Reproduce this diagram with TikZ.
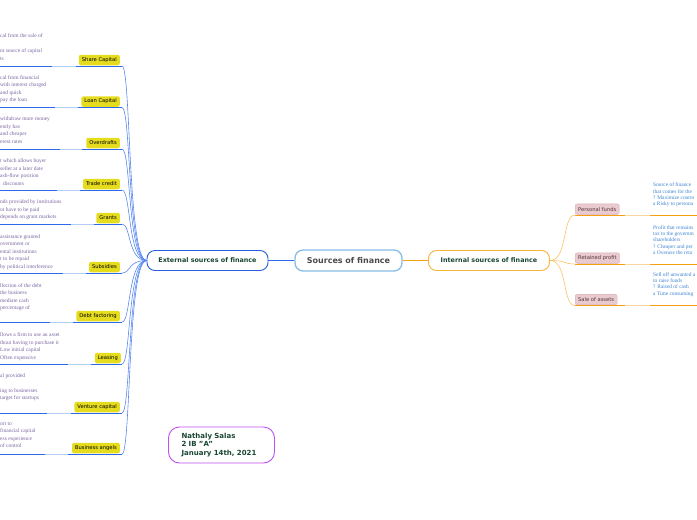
\documentclass[tikz,border=0pt]{standalone}
\usepackage{fontspec}
\setsansfont{DejaVu Sans}
\newfontfamily\notefont{Liberation Serif}
\usetikzlibrary{positioning}
\definecolor{ublue}{RGB}{45,105,235}
\definecolor{ubluelight}{RGB}{180,205,245}
\definecolor{uorange}{RGB}{245,160,20}
\definecolor{uorangelight}{RGB}{250,215,160}
\definecolor{rootblue}{RGB}{135,188,230}
\definecolor{extblue}{RGB}{40,95,225}
\definecolor{intorange}{RGB}{248,180,60}
\definecolor{authorpurple}{RGB}{190,80,240}
\definecolor{deepgreen}{RGB}{25,70,50}
\definecolor{rootgray}{RGB}{75,75,75}
\definecolor{labyellow}{RGB}{230,220,30}
\definecolor{labpink}{RGB}{232,202,207}
\definecolor{labpinkdark}{RGB}{215,172,180}
\definecolor{labtext}{RGB}{85,55,55}
\definecolor{notepurple}{RGB}{120,100,160}
\definecolor{noteblue}{RGB}{60,130,210}
\begin{document}
\begin{tikzpicture}[x=1pt,y=-1pt,
  topic/.style={draw,rounded corners=8pt,fill=white,line width=0.9pt,minimum width=121pt,minimum height=20pt,font=\sffamily\bfseries\fontsize{6.4}{7}\selectfont,text=deepgreen},
  root/.style={topic,draw=rootblue,line width=1.3pt,minimum width=107pt,minimum height=21pt,font=\sffamily\bfseries\fontsize{8}{9}\selectfont,text=rootgray},
  stopic/.style={fill=labyellow,rounded corners=2pt,minimum height=10.5pt,inner xsep=3pt,inner ysep=0pt,font=\sffamily\fontsize{5.2}{6}\selectfont},
  itopic/.style={stopic,fill=labpink,draw=labpinkdark,line width=0.3pt,text=labtext},
  note/.style={inner sep=0pt,align=left,anchor=north west,font=\notefont\fontsize{5.5}{7.5}\selectfont,text=notepurple},
  rnote/.style={note,font=\notefont\fontsize{5.4}{6.3}\selectfont,text=noteblue},
  author/.style={draw=authorpurple,line width=0.9pt,rounded corners=11pt,text width=80pt,inner xsep=13pt,minimum height=36pt,align=left,font=\sffamily\bfseries\fontsize{7}{8.5}\selectfont,text=deepgreen},
  uline/.style={ublue,line width=1pt},
  ulight/.style={ubluelight,line width=1pt},
  elink/.style={ublue!80,line width=0.6pt},
  oline/.style={uorange,line width=1pt},
  olight/.style={uorangelight,line width=1pt},
  ilink/.style={uorange!65,line width=0.6pt}]
  \useasboundingbox (0,0) rectangle (697,520);
  % main topics
  \node[root] (root) at (348.5,260.5) {Sources of finance};
  \node[topic,draw=extblue] (ext) at (207.5,260.5) {External sources of finance};
  \node[topic,draw=intorange] (int) at (489,260.5) {Internal sources of finance};
  \draw[uline] (ext) -- (root);
  \draw[oline] (root) -- (int);
  \node[author] (author) at (221.5,445) {Nathaly Salas\\2 IB "A"\\January 14th, 2021};

  % external sources
  \node[note] (nshare) at (0,33.5) {cal from the sale of\\[7.5pt]nt source of capital\\ts};
  \node[stopic,anchor=south east] (share) at (120,65.5) {Share Capital};
  \coordinate (share-b) at (52,66); \coordinate (share-c) at (76,66); \coordinate (share-d) at (122,66);
  \draw[uline] (nshare.west |- share-b) -- (share-b); \draw[ulight] (share-b) -- (share-c); \draw[uline] (share-c) -- (share-d);
  \draw[elink] (ext.west) .. controls +(-19,0) and +(9,0) .. (share-d);

  \node[note] (nloan) at (0,75.2) {cal from financial\\with interest charged\\and quick\\pay the loan};
  \node[stopic,anchor=south east] (loan) at (120,107) {Loan Capital};
  \coordinate (loan-b) at (55,107.5); \coordinate (loan-c) at (78,107.5); \coordinate (loan-d) at (122,107.5);
  \draw[uline] (nloan.west |- loan-b) -- (loan-b); \draw[ulight] (loan-b) -- (loan-c); \draw[uline] (loan-c) -- (loan-d);
  \draw[elink] (ext.west) .. controls +(-19,0) and +(9,0) .. (loan-d);

  \node[note] (nover) at (0,116.8) {withdraw more money\\ently has\\and cheaper\\erest rates};
  \node[stopic,anchor=south east] (over) at (120,148.5) {Overdrafts};
  \coordinate (over-b) at (60,149); \coordinate (over-c) at (82,149); \coordinate (over-d) at (122,149);
  \draw[uline] (nover.west |- over-b) -- (over-b); \draw[ulight] (over-b) -- (over-c); \draw[uline] (over-c) -- (over-d);
  \draw[elink] (ext.west) .. controls +(-19,0) and +(9,0) .. (over-d);

  \node[note] (ntrade) at (0,158.5) {t which allows buyer\\seller at a later date\\ash-flow position\\\hspace*{3pt}discounts};
  \node[stopic,anchor=south east] (trade) at (120,189.5) {Trade credit};
  \coordinate (trade-b) at (57,190); \coordinate (trade-c) at (80,190); \coordinate (trade-d) at (122,190);
  \draw[uline] (ntrade.west |- trade-b) -- (trade-b); \draw[ulight] (trade-b) -- (trade-c); \draw[uline] (trade-c) -- (trade-d);
  \draw[elink] (ext.west) .. controls +(-19,0) and +(9,0) .. (trade-d);

  \node[note] (ngrants) at (0,199.8) {nds provided by institutions\\ot have to be paid\\depends on grant markets};
  \node[stopic,anchor=south east] (grants) at (120,223.5) {Grants};
  \coordinate (grants-b) at (71,224); \coordinate (grants-c) at (94,224); \coordinate (grants-d) at (122,224);
  \draw[uline] (ngrants.west |- grants-b) -- (grants-b); \draw[ulight] (grants-b) -- (grants-c); \draw[uline] (grants-c) -- (grants-d);
  \draw[elink] (ext.west) .. controls +(-19,0) and +(9,0) .. (grants-d);

  \node[note] (nsubs) at (0,234.2) {assistance granted\\overnment or\\ental institutions\\t to be repaid\\by political interference};
  \node[stopic,anchor=south east] (subs) at (120,272.5) {Subsidies};
  \coordinate (subs-b) at (63,273); \coordinate (subs-c) at (86,273); \coordinate (subs-d) at (122,273);
  \draw[uline] (nsubs.west |- subs-b) -- (subs-b); \draw[ulight] (subs-b) -- (subs-c); \draw[uline] (subs-c) -- (subs-d);
  \draw[elink] (ext.west) .. controls +(-19,0) and +(9,0) .. (subs-d);

  \node[note] (ndebt) at (0,283.2) {llection of the debt\\the business\\mediate cash\\percentage of};
  \node[stopic,anchor=south east] (debt) at (120,321.5) {Debt factoring};
  \coordinate (debt-b) at (50,322); \coordinate (debt-c) at (73,322); \coordinate (debt-d) at (122,322);
  \draw[uline] (ndebt.west |- debt-b) -- (debt-b); \draw[ulight] (debt-b) -- (debt-c); \draw[uline] (debt-c) -- (debt-d);
  \draw[elink] (ext.west) .. controls +(-19,0) and +(9,0) .. (debt-d);

  \node[note] (nlease) at (0,332.5) {llows a firm to use an asset\\thout having to purchase it\\Low initial capital\\Often expensive};
  \node[stopic,anchor=south east] (lease) at (121,363.5) {Leasing};
  \coordinate (lease-b) at (68,364); \coordinate (lease-c) at (91,364); \coordinate (lease-d) at (122,364);
  \draw[uline] (nlease.west |- lease-b) -- (lease-b); \draw[ulight] (lease-b) -- (lease-c); \draw[uline] (lease-c) -- (lease-d);
  \draw[elink] (ext.west) .. controls +(-19,0) and +(9,0) .. (lease-d);

  \node[note] (nvent) at (0,373.2) {al provided\\[7.5pt]ing to businesses\\target for startups};
  \node[stopic,anchor=south east] (vent) at (120,412.5) {Venture capital};
  \coordinate (vent-b) at (47,413); \coordinate (vent-c) at (71,413); \coordinate (vent-d) at (122,413);
  \draw[uline] (nvent.west |- vent-b) -- (vent-b); \draw[ulight] (vent-b) -- (vent-c); \draw[uline] (vent-c) -- (vent-d);
  \draw[elink] (ext.west) .. controls +(-19,0) and +(9,0) .. (vent-d);

  \node[note] (nangel) at (0,421.8) {ort to\\financial capital\\ess experience\\of control};
  \node[stopic,anchor=south east] (angel) at (120,453.5) {Business angels};
  \coordinate (angel-b) at (45,454); \coordinate (angel-c) at (68,454); \coordinate (angel-d) at (122,454);
  \draw[uline] (nangel.west |- angel-b) -- (angel-b); \draw[ulight] (angel-b) -- (angel-c); \draw[uline] (angel-c) -- (angel-d);
  \draw[elink] (ext.west) .. controls +(-19,0) and +(9,0) .. (angel-d);

  % internal sources
  \node[itopic,anchor=south west] (pers) at (575,214.5) {Personal funds};
  \node[rnote] (npers) at (653,182.8) {Source of finance\\that comes for the\\? Maximize contro\\a Risky to persona};
  \coordinate (pers-a) at (575,215); \coordinate (pers-b) at (625,215); \coordinate (pers-c) at (650,215); \coordinate (pers-d) at (697,215);
  \draw[oline] (pers-a) -- (pers-b); \draw[olight] (pers-b) -- (pers-c); \draw[oline] (pers-c) -- (pers-d);
  \draw[ilink] (int.east) .. controls +(18,0) and +(-13,0) .. (pers-a);

  \node[itopic,anchor=south west] (ret) at (575,263.5) {Retained profit};
  \node[rnote] (nret) at (653,225.1) {Profit that remains\\tax to the governm\\shareholders\\? Cheaper and per\\a Overuse the reta};
  \coordinate (ret-a) at (575,264); \coordinate (ret-b) at (625,264); \coordinate (ret-c) at (650,264); \coordinate (ret-d) at (697,264);
  \draw[oline] (ret-a) -- (ret-b); \draw[olight] (ret-b) -- (ret-c); \draw[oline] (ret-c) -- (ret-d);
  \draw[ilink] (int.east) .. controls +(18,0) and +(-13,0) .. (ret-a);

  \node[itopic,anchor=south west] (sale) at (575,305) {Sale of assets};
  \node[rnote] (nsale) at (653,272.1) {Sell off unwanted a\\to raise funds\\? Raised of cash\\a Time consuming};
  \coordinate (sale-a) at (575,305.5); \coordinate (sale-b) at (625,305.5); \coordinate (sale-c) at (650,305.5); \coordinate (sale-d) at (697,305.5);
  \draw[oline] (sale-a) -- (sale-b); \draw[olight] (sale-b) -- (sale-c); \draw[oline] (sale-c) -- (sale-d);
  \draw[ilink] (int.east) .. controls +(18,0) and +(-13,0) .. (sale-a);
\end{tikzpicture}
\end{document}
